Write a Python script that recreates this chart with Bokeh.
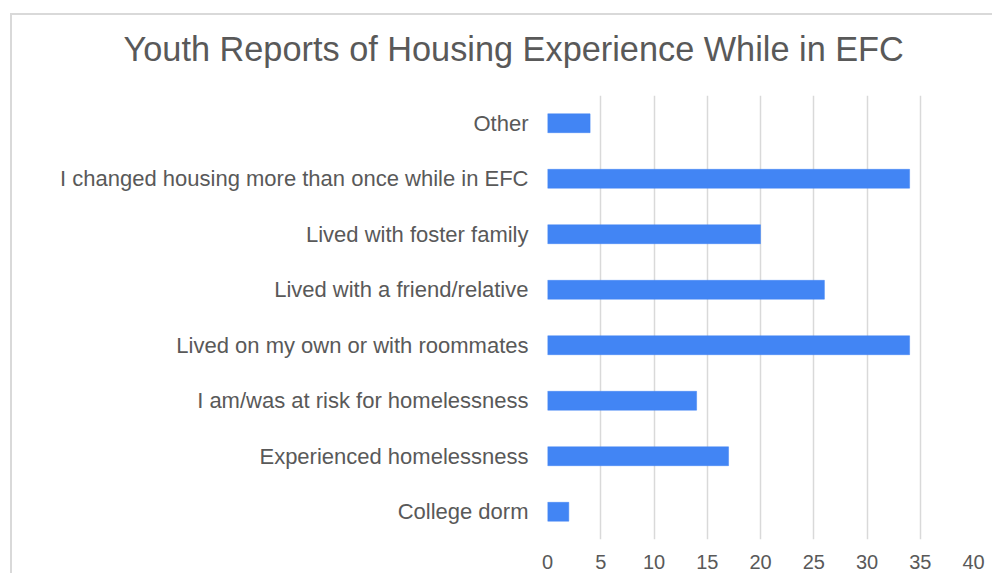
from bokeh.plotting import figure
from bokeh.models import FactorRange, FixedTicker, Range1d
from bokeh.embed import file_html
from bokeh.resources import INLINE

# Data (bottom-to-top order as drawn)
categories = [
    "College dorm",
    "Experienced homelessness",
    "I am/was at risk for homelessness",
    "Lived on my own or with roommates",
    "Lived with a friend/relative",
    "Lived with foster family",
    "I changed housing more than once while in EFC",
    "Other",
]
counts = [2, 17, 14, 34, 26, 20, 34, 4]
x_ticks = [0, 5, 10, 15, 20, 25, 30, 35, 40]
title_text = "Youth Reports of Housing Experience While in EFC"

FONT = "Liberation Sans"
TEXT = "#595959"

p = figure(
    width=984, height=575,
    y_range=FactorRange(*categories, range_padding=0),
    x_range=Range1d(0, 40),
    output_backend="svg", toolbar_location=None,
    min_border_left=539, min_border_right=19,
    min_border_top=97, min_border_bottom=34,
    title=title_text,
)
p.styles = {
    "margin-top": "-2px",
    "margin-left": "8px",
    "background": ("linear-gradient(#d9d9d9, #d9d9d9) 2px 15px / 100% 2px no-repeat, "
                   "linear-gradient(#d9d9d9, #d9d9d9) 2px 15px / 2px 100% no-repeat"),
}

p.hbar(y=categories, right=counts, left=0, height=0.34,
       fill_color="#4285F4", line_color="#4285F4", line_width=0.5)

p.title.text_font = FONT
p.title.text_font_size = "34.3px"
p.title.text_font_style = "normal"
p.title.text_color = TEXT
p.title.align = "left"
p.title.offset = -424
p.title.standoff = 56

p.outline_line_color = None
p.background_fill_color = "white"
p.border_fill_color = None

p.xaxis.ticker = FixedTicker(ticks=x_ticks)
p.xaxis.axis_line_color = None
p.xaxis.major_tick_line_color = None
p.xaxis.minor_tick_line_color = None
p.xaxis.major_tick_out = 0
p.xaxis.major_tick_in = 0
p.xaxis.major_label_standoff = 15
p.xaxis.major_label_text_font = FONT
p.xaxis.major_label_text_font_size = "20px"
p.xaxis.major_label_text_color = TEXT

p.yaxis.axis_line_color = None
p.yaxis.major_tick_line_color = None
p.yaxis.minor_tick_line_color = None
p.yaxis.major_tick_out = 0
p.yaxis.major_tick_in = 0
p.yaxis.major_label_standoff = 19
p.yaxis.major_label_text_font = FONT
p.yaxis.major_label_text_font_size = "22px"
p.yaxis.major_label_text_color = TEXT

p.xgrid.grid_line_color = "#d9d9d9"
p.xgrid.grid_line_width = 1.5
p.ygrid.grid_line_color = None

open("out.html", "w").write(file_html(p, INLINE))
